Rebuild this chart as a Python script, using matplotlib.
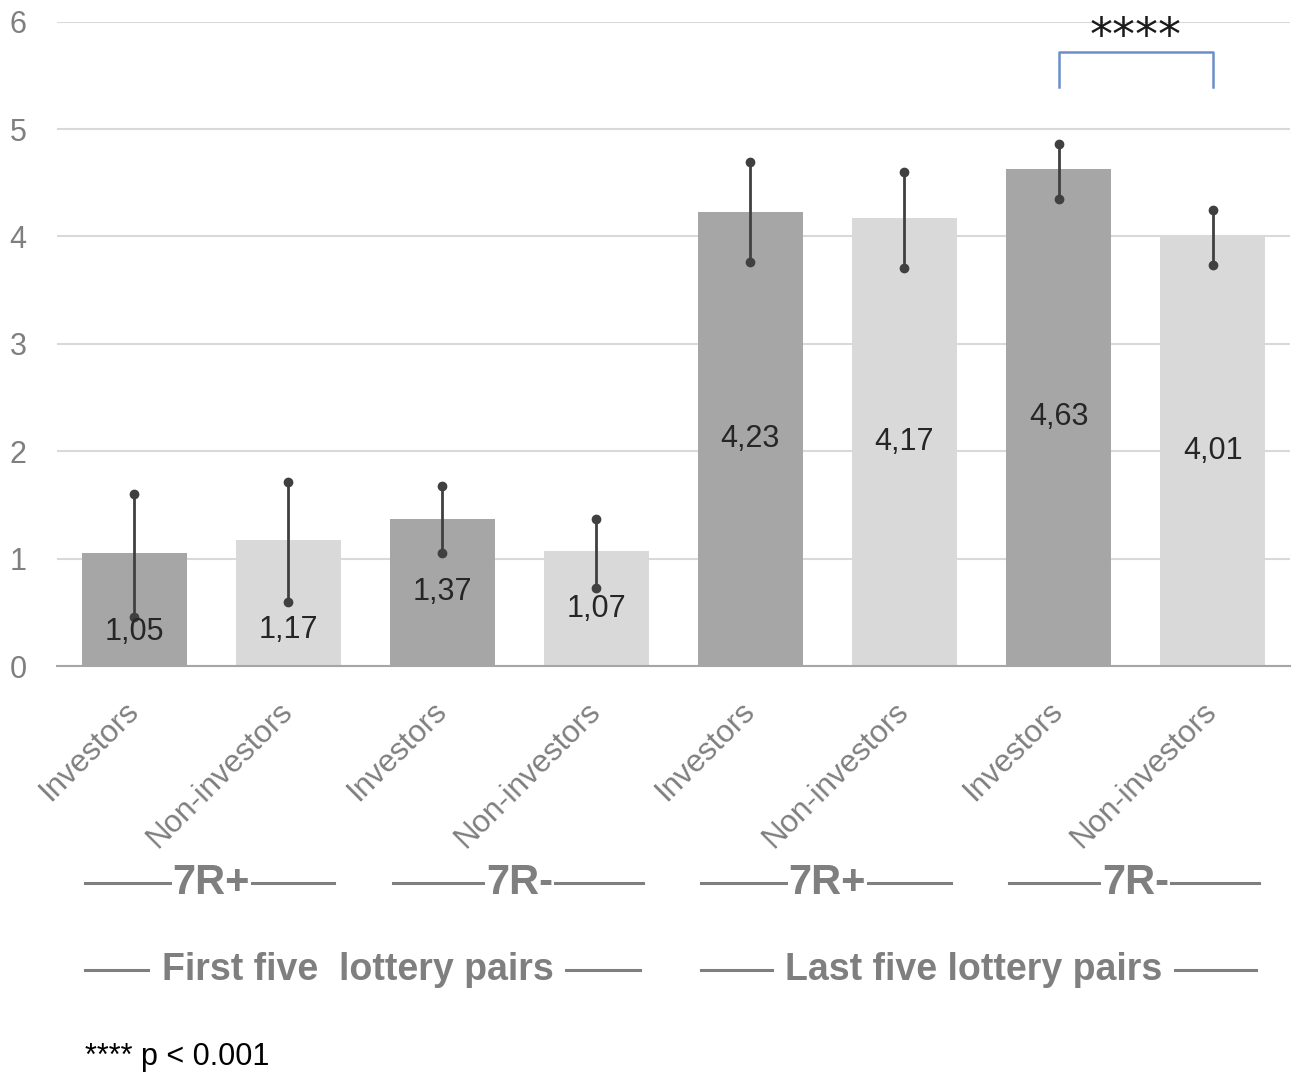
import matplotlib
matplotlib.use("Agg")
import matplotlib.pyplot as plt
import matplotlib.transforms as mtransforms
import numpy as np

plt.rcParams['font.family'] = ['Liberation Sans', 'DejaVu Sans']

# ---- data ----
categories = ["Investors", "Non-investors"] * 4
values = [1.05, 1.17, 1.37, 1.07, 4.23, 4.17, 4.63, 4.01]
err_low = [0.46, 0.60, 1.05, 0.73, 3.76, 3.71, 4.35, 3.73]
err_high = [1.60, 1.71, 1.68, 1.37, 4.69, 4.60, 4.86, 4.25]
value_labels = ["1,05", "1,17", "1,37", "1,07", "4,23", "4,17", "4,63", "4,01"]
subgroups = ["7R+", "7R-", "7R+", "7R-"]
groups = ["First five  lottery pairs", "Last five lottery pairs"]
yticks = [0, 1, 2, 3, 4, 5, 6]
sig_label = "****"
footnote = "**** p < 0.001"

# ---- style ----
dark, light = "#A6A6A6", "#D9D9D9"
colors = [dark, light] * 4
label_frac = [0.30, 0.29, 0.5, 0.5, 0.5, 0.5, 0.5, 0.5]
gray_text = "#7F7F7F"

fig = plt.figure(figsize=(13, 10.83), dpi=100)
ax = fig.add_axes([0.044, 0.385, 0.948, 0.595])

x = np.arange(len(values))
ax.bar(x, values, width=0.68, color=colors, zorder=2)
ax.set_xlim(-0.5, len(values) - 0.5)
ax.set_ylim(0, 6)
ax.set_yticks(yticks)
ax.set_yticklabels([str(t) for t in yticks], fontsize=22, color=gray_text)
ax.tick_params(axis='y', length=0, pad=22)
ax.yaxis.grid(True, color="#D9D9D9", linewidth=1.5, zorder=0)
ax.set_axisbelow(True)
for s in ["left", "right", "top"]:
    ax.spines[s].set_visible(False)
ax.spines["bottom"].set_color("#A6A6A6")
ax.spines["bottom"].set_linewidth(1.5)
ax.spines["bottom"].set_zorder(3)

# error bars
ax.vlines(x, err_low, err_high, color="#404040", linewidth=2, zorder=4)
ax.plot(x, err_low, 'o', color="#404040", markersize=6, zorder=5)
ax.plot(x, err_high, 'o', color="#404040", markersize=6, zorder=5)

# value labels
for xi, v, lab, f in zip(x, values, value_labels, label_frac):
    ax.text(xi, v * f, lab, ha='center', va='center', fontsize=22, color="#262626", zorder=6)

# category tick labels
ax.set_xticks(x)
ax.set_xticklabels(categories, rotation=45, ha='right', rotation_mode='anchor',
                   fontsize=22.5, color=gray_text)
ax.tick_params(axis='x', length=0, pad=22)
shift = mtransforms.ScaledTranslation(-11 / 100, 0, fig.dpi_scale_trans)
for lbl in ax.get_xticklabels():
    lbl.set_transform(lbl.get_transform() + shift)

# significance bracket
y_top, y_leg = 5.72, 5.39
ax.plot([6, 6, 7, 7], [y_leg, y_top, y_top, y_leg], color="#6A8FC8", linewidth=1.8,
        clip_on=False, zorder=3)
ax.text(6.5, 5.85, sig_label, ha='center', va='center', fontsize=33, color="#1A1A1A",
        family='DejaVu Sans', zorder=6)

# group labels
trans = mtransforms.blended_transform_factory(ax.transData, ax.transAxes)
line_col = "#7F7F7F"
y1 = -0.337
for i, sg in enumerate(subgroups):
    left, right = 2 * i - 0.32, 2 * i + 1 + 0.30
    ax.plot([left, right], [y1, y1], color=line_col, linewidth=2.2, transform=trans, clip_on=False)
    ax.text(2 * i + 0.5, y1, sg, ha='center', va='center', fontsize=30, fontweight='bold',
            color=line_col, transform=trans,
            bbox=dict(facecolor='white', edgecolor='none', pad=0.5))
y2 = -0.472
for i, g in enumerate(groups):
    left, right = 4 * i - 0.32, 4 * i + 3.28
    ax.plot([left, right], [y2, y2], color=line_col, linewidth=2.2, transform=trans, clip_on=False)
    ax.text(4 * i + 1.45, y2, g, ha='center', va='center', fontsize=27, fontweight='bold',
            color=line_col, transform=trans,
            bbox=dict(facecolor='white', edgecolor='none', pad=8))

fig.text(85 / 1300, 1 - 1057 / 1083, footnote, ha='left', va='center', fontsize=22, color="#000000")

fig.savefig("out.png", dpi=100, facecolor='white')
